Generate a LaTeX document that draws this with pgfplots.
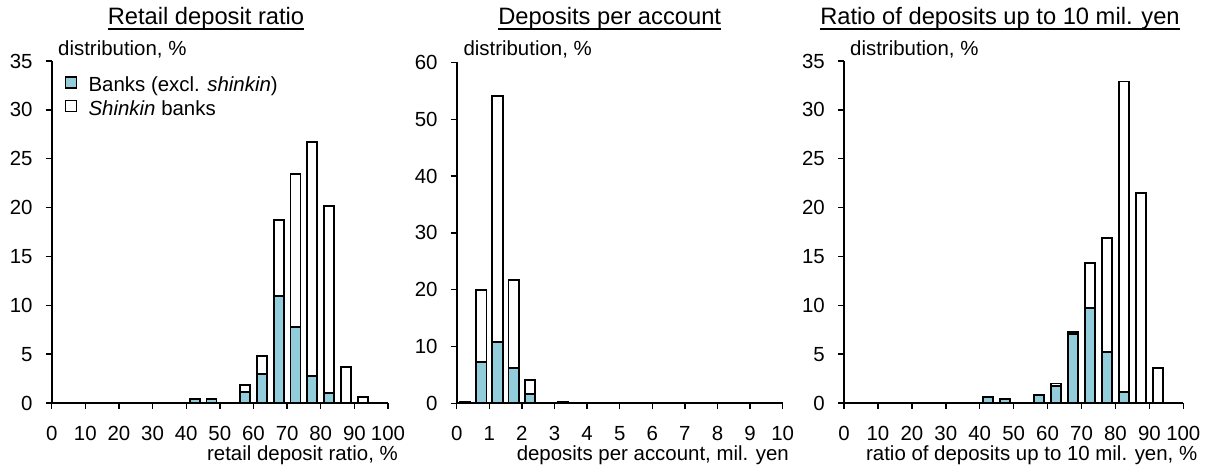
\documentclass[border=0pt]{standalone}
\usepackage{fontspec}
\setmainfont{Liberation Sans}
\usepackage{pgfplots}
\pgfplotsset{compat=1.18}
\definecolor{bankc}{RGB}{146,205,220}
\newcommand{\tf}{\fontsize{20.5}{24}\selectfont}
\newcommand{\ttlf}{\fontsize{23.8}{28}\selectfont}
\pgfplotsset{
 panel/.style={
  scale only axis,
  axis x line*=bottom, axis y line*=left,
  axis line style={line width=1.6bp, black},
  tick style={line width=1.4bp, black},
  tick align=outside,
  major tick length=6bp,
  ybar stacked,
  ymin=0,
  /pgf/number format/assume math mode=true,
  tick label style={font=\tf},
  yticklabel style={inner sep=0pt, xshift=-13bp},
  xticklabel style={inner sep=0pt, yshift=-17bp},
  every axis plot/.append style={draw=black, line width=1.8bp},
  anchor=south west,
 },
 bankbar/.style={fill=bankc, draw=black},
 shinbar/.style={fill=white, draw=black},
}
\begin{document}
\begin{tikzpicture}
\path[use as bounding box] (0,0) rectangle (1209bp,468bp);
% Panel 1
\begin{axis}[panel, at={(51.7bp,65bp)}, width=336.3bp, height=342bp,
  xmin=0, xmax=100, ymax=35, xtick={0,10,...,100}, ytick={0,5,...,35},
  bar width=10bp,
  legend style={at={(0,1)}, anchor=north west, xshift=13bp, yshift=-15bp, draw=none, fill=none, inner sep=0pt, row sep=4bp, font=\tf, nodes={inner sep=0pt, text height=14bp, text depth=4bp}},
  legend cell align=left,
  legend image code/.code={\draw[#1, line width=1.4bp] (0bp,-1bp) rectangle (11bp,10bp); \path[draw=none, fill=none] (0bp,0bp) -- (23bp,0bp);}]
\addplot[bankbar] coordinates {(42.5,0.4) (47.5,0.4) (57.5,1.15) (62.5,3.0) (67.5,10.95) (72.5,7.75) (77.5,2.8) (82.5,1.0) (87.5,0) (92.5,0)};
\addplot[shinbar] coordinates {(42.5,0) (47.5,0) (57.5,0.7) (62.5,1.85) (67.5,7.75) (72.5,15.65) (77.5,23.9) (82.5,19.2) (87.5,3.65) (92.5,0.6)};
\legend{Banks (excl. \textit{shinkin}), \textit{Shinkin} banks}
\end{axis}
% Panel 2
\begin{axis}[panel, at={(456.7bp,64.7bp)}, width=326bp, height=340.8bp,
  xmin=0, xmax=10, ymax=60, xtick={0,1,...,10}, ytick={0,10,...,60},
  bar width=10.5bp]
\addplot[bankbar] coordinates {(0.25,0) (0.75,7.3) (1.25,10.85) (1.75,6.15) (2.25,1.65) (3.25,0)};
\addplot[shinbar] coordinates {(0.25,0.25) (0.75,12.65) (1.25,43.25) (1.75,15.55) (2.25,2.45) (3.25,0.25)};
\end{axis}
% Panel 3
\begin{axis}[panel, at={(844bp,65bp)}, width=339.3bp, height=342bp,
  xmin=0, xmax=100, ymax=35, xtick={0,10,...,100}, ytick={0,5,...,35},
  bar width=10bp]
\addplot[bankbar] coordinates {(42.5,0.6) (47.5,0.4) (57.5,0.8) (62.5,1.7) (67.5,7.05) (72.5,9.75) (77.5,5.25) (82.5,1.15) (87.5,0) (92.5,0)};
\addplot[shinbar] coordinates {(42.5,0) (47.5,0) (57.5,0) (62.5,0.3) (67.5,0.25) (72.5,4.55) (77.5,11.65) (82.5,31.75) (87.5,21.45) (92.5,3.6)};
\end{axis}
% titles
\node[anchor=base, inner sep=0pt, font=\ttlf] (t1) at (206bp,443bp) {Retail deposit ratio};
\draw[line width=1.8bp] ([yshift=-4.3bp]t1.base west) -- ([yshift=-4.3bp]t1.base east);
\node[anchor=base, inner sep=0pt, font=\ttlf] (t2) at (609.7bp,443bp) {Deposits per account};
\draw[line width=1.8bp] ([yshift=-4.3bp]t2.base west) -- ([yshift=-4.3bp]t2.base east);
\node[anchor=base, inner sep=0pt, font=\ttlf] (t3) at (1000bp,443bp) {Ratio of deposits up to 10 mil. yen};
\draw[line width=1.8bp] ([yshift=-4.3bp]t3.base west) -- ([yshift=-4.3bp]t3.base east);
% distribution labels
\node[anchor=base west, inner sep=0pt, font=\tf] at (58bp,412bp) {distribution, \%};
\node[anchor=base west, inner sep=0pt, font=\tf] at (463.3bp,412bp) {distribution, \%};
\node[anchor=base west, inner sep=0pt, font=\tf] at (850bp,412bp) {distribution, \%};
% axis labels
\node[anchor=base, inner sep=0pt, font=\tf] at (302.5bp,7.5bp) {retail deposit ratio, \%};
\node[anchor=base, inner sep=0pt, font=\tf] at (652.8bp,7.5bp) {deposits per account, mil. yen};
\node[anchor=base, inner sep=0pt, font=\tf] at (1031.7bp,7.5bp) {ratio of deposits up to 10 mil. yen, \%};
\end{tikzpicture}
\end{document}
